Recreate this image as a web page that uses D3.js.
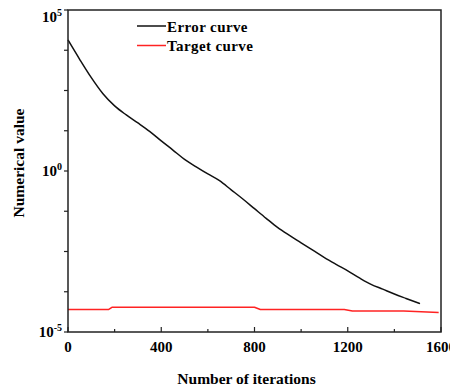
<!DOCTYPE html>
<html>
<head>
<meta charset="utf-8">
<script src="https://cdn.jsdelivr.net/npm/d3@7"></script>
<style>
  body { margin: 0; background: #fff; }
  svg text { font-family: "Liberation Serif", "Times New Roman", serif; font-weight: bold; fill: #000; }
</style>
</head>
<body>
<svg id="chart" width="450" height="390"></svg>
<script>
// values
var errIter = [0, 50, 100, 150, 200, 250, 300, 350, 400, 450, 500, 550, 600, 650, 700, 750,
  800, 850, 900, 950, 1000, 1050, 1100, 1150, 1200, 1250, 1300, 1350, 1400, 1450, 1510];
var errValue = [11750, 2950, 794, 251, 105, 55, 31, 17.0, 8.6, 4.47, 2.29, 1.35, 0.81, 0.50,
  0.26, 0.135, 0.0676, 0.0339, 0.0174, 0.0100, 0.0059, 0.00347, 0.00204, 0.00126, 0.000794,
  0.000478, 0.000302, 0.000214, 0.000151, 0.000110, 0.0000759];

var targetIter = [0, 175, 190, 800, 825, 1185, 1220, 1440, 1590];
var targetValue = [5.0e-5, 5.0e-5, 5.9e-5, 5.9e-5, 5.0e-5, 5.0e-5, 4.5e-5, 4.5e-5, 4.0e-5];

var xTicks = [0, 400, 800, 1200, 1600];
var xMinorTicks = [200, 600, 1000, 1400];
var yLabelExp = [5, 0, -5];
var yTickExp = [5, 3.75, 2.5, 1.25, 0, -1.25, -2.5, -3.75, -5];

var legendNames = ['Error curve', 'Target curve'];
var colors = ['#111111', '#ff2323'];

var svg = d3.select('#chart');
var plotLeft = 68, plotRight = 441, plotTop = 10, plotBottom = 332;

var x = d3.scaleLinear().domain([0, 1600]).range([plotLeft, plotRight]);
var y = d3.scaleLog().domain([1e-5, 1e5]).range([plotBottom, plotTop]);

var smoothLine = d3.line()
  .x(function(d) { return x(d[0]); })
  .y(function(d) { return y(d[1]); })
  .curve(d3.curveMonotoneX);

var stepLine = d3.line()
  .x(function(d) { return x(d[0]); })
  .y(function(d) { return y(d[1]); });

var series = [
  d3.zip(errIter, errValue),
  d3.zip(targetIter, targetValue)
];

// curves
svg.selectAll('path.curve')
  .data(series)
  .enter()
  .append('path')
  .attr('class', 'curve')
  .attr('d', function(d, i) { return i === 0 ? smoothLine(d) : stepLine(d); })
  .attr('fill', 'none')
  .attr('stroke', function(d, i) { return colors[i]; })
  .attr('stroke-width', 1.5)
  .attr('stroke-linejoin', 'round');

// frame
svg.append('rect')
  .attr('x', plotLeft)
  .attr('y', plotTop)
  .attr('width', plotRight - plotLeft)
  .attr('height', plotBottom - plotTop)
  .attr('fill', 'none')
  .attr('stroke', '#222')
  .attr('stroke-width', 1.5);

// x ticks (inward)
svg.selectAll('line.xt')
  .data(xTicks)
  .enter()
  .append('line')
  .attr('class', 'xt')
  .attr('x1', x).attr('x2', x)
  .attr('y1', plotBottom).attr('y2', plotBottom - 5)
  .attr('stroke', '#222').attr('stroke-width', 1.2);

svg.selectAll('line.xm')
  .data(xMinorTicks)
  .enter()
  .append('line')
  .attr('class', 'xm')
  .attr('x1', x).attr('x2', x)
  .attr('y1', plotBottom).attr('y2', plotBottom - 3)
  .attr('stroke', '#222').attr('stroke-width', 1.2);

svg.selectAll('text.xl')
  .data(xTicks)
  .enter()
  .append('text')
  .attr('class', 'xl')
  .attr('x', x)
  .attr('y', plotBottom + 20)
  .attr('text-anchor', 'middle')
  .style('font-size', '15px')
  .text(function(d) { return d; });

// y ticks (outward)
svg.selectAll('line.yt')
  .data(yTickExp)
  .enter()
  .append('line')
  .attr('class', 'yt')
  .attr('x1', plotLeft - 4).attr('x2', plotLeft)
  .attr('y1', function(d) { return y(Math.pow(10, d)); })
  .attr('y2', function(d) { return y(Math.pow(10, d)); })
  .attr('stroke', '#222').attr('stroke-width', 1.2);

var yl = svg.selectAll('text.yl')
  .data(yLabelExp)
  .enter()
  .append('text')
  .attr('class', 'yl')
  .attr('x', plotLeft - 6)
  .attr('y', function(d, i) { return y(Math.pow(10, d)) + (i === 0 ? 12 : 5); })
  .attr('text-anchor', 'end')
  .style('font-size', '15px');
yl.append('tspan').text('10');
yl.append('tspan')
  .attr('dy', -6)
  .style('font-size', '10px')
  .text(function(d) { return d; });

// axis titles
svg.append('text')
  .attr('x', (plotLeft + plotRight) / 2 - 8)
  .attr('y', 384)
  .attr('text-anchor', 'middle')
  .style('font-size', '15.5px')
  .text('Number of iterations');

svg.append('text')
  .attr('transform', 'translate(24,163) rotate(-90)')
  .attr('text-anchor', 'middle')
  .style('font-size', '15.5px')
  .text('Numerical value');

// legend
var legend = svg.append('g')
  .attr('transform', 'translate(137,26)');

var items = legend.selectAll('g')
  .data(legendNames)
  .enter()
  .append('g')
  .attr('transform', function(d, i) { return 'translate(0,' + i * 19.5 + ')'; });

items.append('line')
  .attr('x1', 0).attr('x2', 29)
  .attr('stroke', function(d, i) { return colors[i]; })
  .attr('stroke-width', 1.5);

items.append('text')
  .attr('x', 30)
  .attr('y', 5.5)
  .style('font-size', '15px')
  .style('letter-spacing', '0.4px')
  .text(function(d) { return d; });
</script>
</body>
</html>
